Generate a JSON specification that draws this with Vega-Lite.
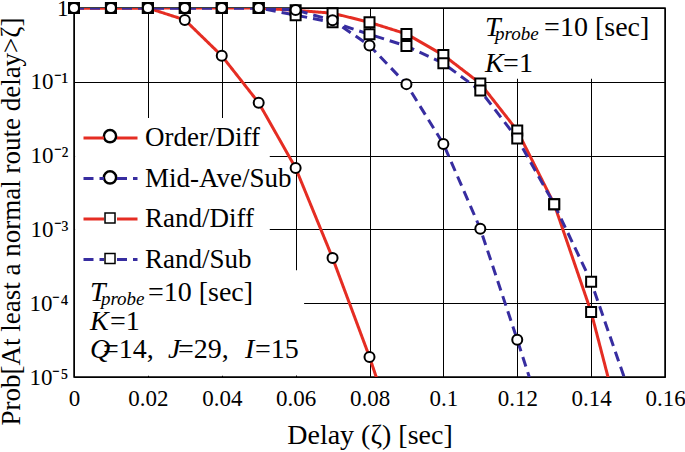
{
  "$schema": "https://vega.github.io/schema/vega-lite/v6.json",
  "width": 591,
  "height": 369,
  "autosize": {"type": "none"},
  "padding": {"left": 74, "top": 8, "right": 20, "bottom": 75},
  "background": "white",
  "config": {
    "font": "Liberation Serif",
    "view": {"stroke": "black", "strokeWidth": 1.5},
    "axis": {
      "labelFont": "Liberation Serif",
      "titleFont": "Liberation Serif",
      "labelFontSize": 23,
      "labelColor": "black",
      "titleFontSize": 28,
      "titleFontWeight": "normal",
      "titleColor": "black",
      "grid": true,
      "gridColor": "black",
      "gridWidth": 1,
      "gridOpacity": 1,
      "ticks": false,
      "domain": false,
      "labelOverlap": false,
      "labelFlush": false,
      "labelBound": false
    },
    "legend": {"labelFont": "Liberation Serif"},
    "text": {"font": "Liberation Serif", "color": "black"}
  },
  "data": {
    "values": [
      {"series": "Rand/Diff", "x": 0, "p": 1},
      {"series": "Rand/Diff", "x": 0.01, "p": 1},
      {"series": "Rand/Diff", "x": 0.02, "p": 1},
      {"series": "Rand/Diff", "x": 0.03, "p": 1},
      {"series": "Rand/Diff", "x": 0.04, "p": 1},
      {"series": "Rand/Diff", "x": 0.05, "p": 1},
      {"series": "Rand/Diff", "x": 0.06, "p": 0.93},
      {"series": "Rand/Diff", "x": 0.07, "p": 0.85},
      {"series": "Rand/Diff", "x": 0.08, "p": 0.64},
      {"series": "Rand/Diff", "x": 0.09, "p": 0.445},
      {"series": "Rand/Diff", "x": 0.1, "p": 0.23},
      {"series": "Rand/Diff", "x": 0.11, "p": 0.095},
      {"series": "Rand/Diff", "x": 0.12, "p": 0.0218},
      {"series": "Rand/Diff", "x": 0.13, "p": 0.0022},
      {"series": "Rand/Diff", "x": 0.14, "p": 0.000076},
      {"series": "Rand/Diff", "x": 0.15, "p": 0.0000009},
      {"series": "Rand/Sub", "x": 0, "p": 1},
      {"series": "Rand/Sub", "x": 0.01, "p": 1},
      {"series": "Rand/Sub", "x": 0.02, "p": 1},
      {"series": "Rand/Sub", "x": 0.03, "p": 1},
      {"series": "Rand/Sub", "x": 0.04, "p": 1},
      {"series": "Rand/Sub", "x": 0.05, "p": 1},
      {"series": "Rand/Sub", "x": 0.06, "p": 0.8},
      {"series": "Rand/Sub", "x": 0.07, "p": 0.64},
      {"series": "Rand/Sub", "x": 0.08, "p": 0.44},
      {"series": "Rand/Sub", "x": 0.09, "p": 0.305},
      {"series": "Rand/Sub", "x": 0.1, "p": 0.178},
      {"series": "Rand/Sub", "x": 0.11, "p": 0.076},
      {"series": "Rand/Sub", "x": 0.12, "p": 0.017},
      {"series": "Rand/Sub", "x": 0.13, "p": 0.0022},
      {"series": "Rand/Sub", "x": 0.14, "p": 0.000195},
      {"series": "Rand/Sub", "x": 0.15, "p": 0.000007},
      {"series": "Order/Diff", "x": 0, "p": 1},
      {"series": "Order/Diff", "x": 0.01, "p": 1},
      {"series": "Order/Diff", "x": 0.02, "p": 1},
      {"series": "Order/Diff", "x": 0.03, "p": 0.69},
      {"series": "Order/Diff", "x": 0.04, "p": 0.225},
      {"series": "Order/Diff", "x": 0.05, "p": 0.052},
      {"series": "Order/Diff", "x": 0.06, "p": 0.0068},
      {"series": "Order/Diff", "x": 0.07, "p": 0.00041},
      {"series": "Order/Diff", "x": 0.08, "p": 0.0000187},
      {"series": "Order/Diff", "x": 0.09, "p": 0.0000006},
      {"series": "Mid-Ave/Sub", "x": 0, "p": 1},
      {"series": "Mid-Ave/Sub", "x": 0.01, "p": 1},
      {"series": "Mid-Ave/Sub", "x": 0.02, "p": 1},
      {"series": "Mid-Ave/Sub", "x": 0.03, "p": 1},
      {"series": "Mid-Ave/Sub", "x": 0.04, "p": 1},
      {"series": "Mid-Ave/Sub", "x": 0.05, "p": 1},
      {"series": "Mid-Ave/Sub", "x": 0.06, "p": 0.94},
      {"series": "Mid-Ave/Sub", "x": 0.07, "p": 0.68},
      {"series": "Mid-Ave/Sub", "x": 0.08, "p": 0.31},
      {"series": "Mid-Ave/Sub", "x": 0.09, "p": 0.093},
      {"series": "Mid-Ave/Sub", "x": 0.1, "p": 0.0144},
      {"series": "Mid-Ave/Sub", "x": 0.11, "p": 0.00102},
      {"series": "Mid-Ave/Sub", "x": 0.12, "p": 0.000032},
      {"series": "Mid-Ave/Sub", "x": 0.13, "p": 0.0000009}
    ]
  },
  "layer": [
    {
      "data": {"values": [{}]},
      "mark": {"type": "rect", "fill": "white", "strokeWidth": 0},
      "encoding": {
        "x": {"datum": 0.0003, "type": "quantitative"},
        "x2": {"datum": 0.053},
        "y": {"datum": 0.0000105, "type": "quantitative"},
        "y2": {"datum": 0.0324}
      }
    },
    {
      "data": {"values": [{}]},
      "mark": {"type": "rect", "fill": "white", "strokeWidth": 0},
      "encoding": {
        "x": {"datum": 0.0003, "type": "quantitative"},
        "x2": {"datum": 0.0623},
        "y": {"datum": 0.0000105, "type": "quantitative"},
        "y2": {"datum": 0.00028}
      }
    },
    {
      "data": {"values": [{}]},
      "mark": {"type": "rect", "fill": "white", "strokeWidth": 0},
      "encoding": {
        "x": {"datum": 0.1072, "type": "quantitative"},
        "x2": {"datum": 0.1597},
        "y": {"datum": 0.11, "type": "quantitative"},
        "y2": {"datum": 0.97}
      }
    },
    {
      "mark": {"type": "line", "clip": true, "strokeWidth": 3},
      "encoding": {
        "x": {
          "field": "x",
          "type": "quantitative",
          "scale": {"domain": [0, 0.16]},
          "axis": {
            "values": [0, 0.02, 0.04, 0.06, 0.08, 0.1, 0.12, 0.14, 0.16],
            "format": "~g",
            "labelPadding": 10,
            "title": "Delay (ζ) [sec]",
            "titleY": 66,
            "titleBaseline": "alphabetic"
          }
        },
        "y": {
          "field": "p",
          "type": "quantitative",
          "scale": {"type": "log", "domain": [0.00001, 1]},
          "axis": {
            "values": [0.00001, 0.0001, 0.001, 0.01, 0.1, 1],
            "labelExpr": "datum.value >= 1 ? '1' : '10' + ['', '⁻¹', '⁻²', '⁻³', '⁻⁴', '⁻⁵'][round(-log(datum.value) / LN10)]",
            "labelPadding": 6,
            "title": "Prob[At least a normal route delay>ζ]",
            "titleFontSize": 27,
            "titleX": -63,
            "titleY": 213,
            "titleAngle": -90,
            "titleAlign": "center",
            "titleBaseline": "middle"
          }
        },
        "color": {
          "field": "series",
          "type": "nominal",
          "scale": {
            "domain": ["Order/Diff", "Mid-Ave/Sub", "Rand/Diff", "Rand/Sub"],
            "range": ["#e52d23", "#372da0", "#e52d23", "#372da0"]
          },
          "legend": {
            "orient": "none",
            "legendX": 1,
            "legendY": 110,
            "direction": "vertical",
            "title": null,
            "symbolType": "M-1,0H-0.24M0.24,0H1",
            "symbolSize": 2916,
            "symbolStrokeWidth": 3,
            "symbolFillColor": "transparent",
            "symbolOpacity": 1,
            "clipHeight": 30,
            "rowPadding": 10.5,
            "padding": 5,
            "symbolOffset": 2,
            "labelOffset": 6,
            "labelFontSize": 27,
            "labelColor": "black",
            "labelLimit": 300
          }
        },
        "strokeDash": {
          "field": "series",
          "type": "nominal",
          "scale": {
            "domain": ["Order/Diff", "Mid-Ave/Sub", "Rand/Diff", "Rand/Sub"],
            "range": [[1, 0], [10, 6], [1, 0], [10, 6]]
          }
        }
      }
    },
    {
      "transform": [{"filter": "datum.p >= 0.00001"}],
      "mark": {"type": "point", "filled": false, "fill": "white", "stroke": "black", "strokeWidth": 2, "size": 100, "opacity": 1},
      "encoding": {
        "x": {"field": "x", "type": "quantitative"},
        "y": {"field": "p", "type": "quantitative"},
        "shape": {
          "field": "series",
          "type": "nominal",
          "scale": {
            "domain": ["Order/Diff", "Mid-Ave/Sub", "Rand/Diff", "Rand/Sub", "other"],
            "range": ["circle", "circle", "square", "square", "circle"]
          },
          "legend": null
        }
      }
    },
    {
      "data": {"values": [{}]},
      "mark": {"type": "point", "shape": "circle", "filled": false, "fill": "white", "stroke": "black", "strokeWidth": 2.5, "size": 150, "opacity": 1},
      "encoding": {"x": {"datum": 0.00975, "type": "quantitative"}, "y": {"datum": 0.0183, "type": "quantitative"}}
    },
    {
      "data": {"values": [{}]},
      "mark": {"type": "point", "shape": "circle", "filled": false, "fill": "white", "stroke": "black", "strokeWidth": 2.5, "size": 150, "opacity": 1},
      "encoding": {"x": {"datum": 0.00975, "type": "quantitative"}, "y": {"datum": 0.00505, "type": "quantitative"}}
    },
    {
      "data": {"values": [{}]},
      "mark": {"type": "point", "shape": "square", "filled": false, "fill": "white", "stroke": "black", "strokeWidth": 1.5, "size": 100, "opacity": 1},
      "encoding": {"x": {"datum": 0.00975, "type": "quantitative"}, "y": {"datum": 0.001426, "type": "quantitative"}}
    },
    {
      "data": {"values": [{}]},
      "mark": {"type": "point", "shape": "square", "filled": false, "fill": "white", "stroke": "black", "strokeWidth": 1.5, "size": 100, "opacity": 1},
      "encoding": {"x": {"datum": 0.00975, "type": "quantitative"}, "y": {"datum": 0.000403, "type": "quantitative"}}
    },
    {
      "data": {"values": [{}]},
      "mark": {"type": "text", "text": "T", "fontStyle": "italic", "fontSize": 28, "align": "left", "baseline": "alphabetic"},
      "encoding": {"x": {"datum": 0.1113, "type": "quantitative"}, "y": {"datum": 0.418, "type": "quantitative"}}
    },
    {
      "data": {"values": [{}]},
      "mark": {"type": "text", "text": "probe", "fontStyle": "italic", "fontSize": 19, "align": "left", "baseline": "alphabetic", "dx": 10, "dy": 4},
      "encoding": {"x": {"datum": 0.1113, "type": "quantitative"}, "y": {"datum": 0.418, "type": "quantitative"}}
    },
    {
      "data": {"values": [{}]},
      "mark": {"type": "text", "text": "=10 [sec]", "fontSize": 28, "align": "left", "baseline": "alphabetic", "dx": 59},
      "encoding": {"x": {"datum": 0.1113, "type": "quantitative"}, "y": {"datum": 0.418, "type": "quantitative"}}
    },
    {
      "data": {"values": [{}]},
      "mark": {"type": "text", "text": "K", "fontStyle": "italic", "fontSize": 28, "align": "left", "baseline": "alphabetic"},
      "encoding": {"x": {"datum": 0.1113, "type": "quantitative"}, "y": {"datum": 0.136, "type": "quantitative"}}
    },
    {
      "data": {"values": [{}]},
      "mark": {"type": "text", "text": "=1", "fontSize": 28, "align": "left", "baseline": "alphabetic", "dx": 18},
      "encoding": {"x": {"datum": 0.1113, "type": "quantitative"}, "y": {"datum": 0.136, "type": "quantitative"}}
    },
    {
      "data": {"values": [{}]},
      "mark": {"type": "text", "text": "T", "fontStyle": "italic", "fontSize": 28, "align": "left", "baseline": "alphabetic"},
      "encoding": {"x": {"datum": 0.0043, "type": "quantitative"}, "y": {"datum": 0.000107, "type": "quantitative"}}
    },
    {
      "data": {"values": [{}]},
      "mark": {"type": "text", "text": "probe", "fontStyle": "italic", "fontSize": 19, "align": "left", "baseline": "alphabetic", "dx": 11, "dy": 4},
      "encoding": {"x": {"datum": 0.0043, "type": "quantitative"}, "y": {"datum": 0.000107, "type": "quantitative"}}
    },
    {
      "data": {"values": [{}]},
      "mark": {"type": "text", "text": "=10 [sec]", "fontSize": 28, "align": "left", "baseline": "alphabetic", "dx": 58},
      "encoding": {"x": {"datum": 0.0043, "type": "quantitative"}, "y": {"datum": 0.000107, "type": "quantitative"}}
    },
    {
      "data": {"values": [{}]},
      "mark": {"type": "text", "text": "K", "fontStyle": "italic", "fontSize": 28, "align": "left", "baseline": "alphabetic"},
      "encoding": {"x": {"datum": 0.0043, "type": "quantitative"}, "y": {"datum": 0.0000433, "type": "quantitative"}}
    },
    {
      "data": {"values": [{}]},
      "mark": {"type": "text", "text": "=1", "fontSize": 28, "align": "left", "baseline": "alphabetic", "dx": 20},
      "encoding": {"x": {"datum": 0.0043, "type": "quantitative"}, "y": {"datum": 0.0000433, "type": "quantitative"}}
    },
    {
      "data": {"values": [{}]},
      "mark": {"type": "text", "text": "Q", "fontStyle": "italic", "fontSize": 28, "align": "left", "baseline": "alphabetic"},
      "encoding": {"x": {"datum": 0.0043, "type": "quantitative"}, "y": {"datum": 0.0000181, "type": "quantitative"}}
    },
    {
      "data": {"values": [{}]},
      "mark": {"type": "text", "text": "=14,", "fontSize": 28, "align": "left", "baseline": "alphabetic", "dx": 13},
      "encoding": {"x": {"datum": 0.0043, "type": "quantitative"}, "y": {"datum": 0.0000181, "type": "quantitative"}}
    },
    {
      "data": {"values": [{}]},
      "mark": {"type": "text", "text": "J", "fontStyle": "italic", "fontSize": 28, "align": "left", "baseline": "alphabetic", "dx": 78},
      "encoding": {"x": {"datum": 0.0043, "type": "quantitative"}, "y": {"datum": 0.0000181, "type": "quantitative"}}
    },
    {
      "data": {"values": [{}]},
      "mark": {"type": "text", "text": "=29,", "fontSize": 28, "align": "left", "baseline": "alphabetic", "dx": 88},
      "encoding": {"x": {"datum": 0.0043, "type": "quantitative"}, "y": {"datum": 0.0000181, "type": "quantitative"}}
    },
    {
      "data": {"values": [{}]},
      "mark": {"type": "text", "text": "I", "fontStyle": "italic", "fontSize": 28, "align": "left", "baseline": "alphabetic", "dx": 155},
      "encoding": {"x": {"datum": 0.0043, "type": "quantitative"}, "y": {"datum": 0.0000181, "type": "quantitative"}}
    },
    {
      "data": {"values": [{}]},
      "mark": {"type": "text", "text": "=15", "fontSize": 28, "align": "left", "baseline": "alphabetic", "dx": 165},
      "encoding": {"x": {"datum": 0.0043, "type": "quantitative"}, "y": {"datum": 0.0000181, "type": "quantitative"}}
    }
  ]
}
